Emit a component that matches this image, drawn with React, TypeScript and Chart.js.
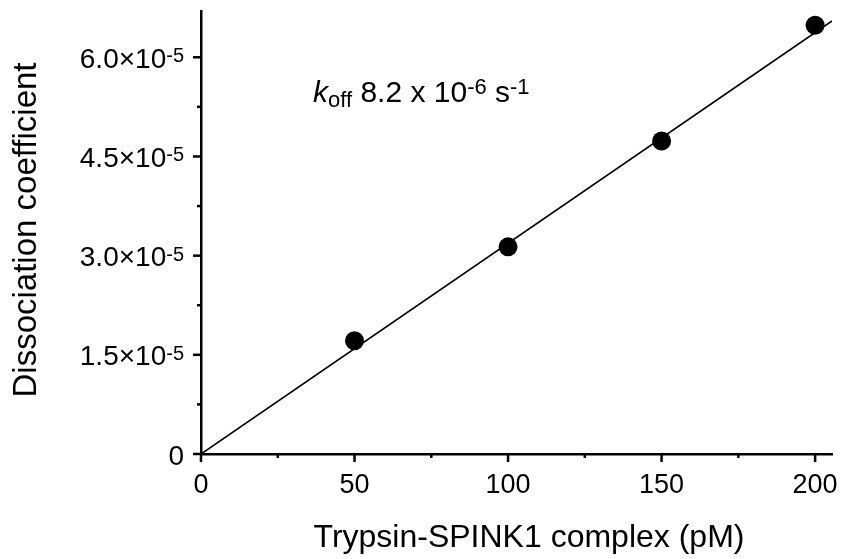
import React, { useEffect, useRef } from "react";
import { Chart, registerables } from "chart.js";

Chart.register(...registerables);

const concentrations = [50, 100, 150, 200];
const dissociation = [1.712e-5, 3.133e-5, 4.735e-5, 6.484e-5];
const fitX = [0, 205.5];
const fitY = [0, 6.55e-5];
const xMajorTicks = [0, 50, 100, 150, 200];
const xMinorTicks = [25, 75, 125, 175];
const yMajorTicks = [0, 1.5e-5, 3.0e-5, 4.5e-5, 6.0e-5];
const yMinorTicks = [0.75e-5, 2.25e-5, 3.75e-5, 5.25e-5];
const yTickMantissa = ["0", "1.5×10", "3.0×10", "4.5×10", "6.0×10"];
const yTickExponent = ["", "-5", "-5", "-5", "-5"];
const xTitle = "Trypsin-SPINK1 complex (pM)";
const yTitle = "Dissociation coefficient";

const FONT = "'Liberation Sans', Arial, sans-serif";

const overlay = {
  id: "overlay",
  afterDraw(chart: any) {
    const ctx = chart.ctx as CanvasRenderingContext2D;
    const xs = chart.scales.x;
    const ys = chart.scales.y;
    const area = chart.chartArea;
    ctx.save();
    ctx.strokeStyle = "#000";
    ctx.fillStyle = "#000";
    ctx.lineWidth = 2.5;
    // x ticks
    xMajorTicks.forEach((v) => {
      const px = xs.getPixelForValue(v);
      ctx.beginPath();
      ctx.moveTo(px, area.bottom);
      ctx.lineTo(px, area.bottom + 8);
      ctx.stroke();
    });
    xMinorTicks.forEach((v) => {
      const px = xs.getPixelForValue(v);
      ctx.beginPath();
      ctx.moveTo(px, area.bottom);
      ctx.lineTo(px, area.bottom + 4);
      ctx.stroke();
    });
    yMajorTicks.forEach((v) => {
      const py = ys.getPixelForValue(v);
      ctx.beginPath();
      ctx.moveTo(area.left, py);
      ctx.lineTo(area.left - 8, py);
      ctx.stroke();
    });
    yMinorTicks.forEach((v) => {
      const py = ys.getPixelForValue(v);
      ctx.beginPath();
      ctx.moveTo(area.left, py);
      ctx.lineTo(area.left - 4, py);
      ctx.stroke();
    });
    // x tick labels
    ctx.font = `27px ${FONT}`;
    ctx.textAlign = "center";
    ctx.textBaseline = "alphabetic";
    xMajorTicks.forEach((v) => {
      const px = xs.getPixelForValue(v);
      ctx.fillText(String(v), px, area.bottom + 39);
    });
    // y tick labels
    ctx.textAlign = "left";
    yMajorTicks.forEach((v, i) => {
      const py = ys.getPixelForValue(v);
      const right = area.left - 17;
      ctx.font = `20px ${FONT}`;
      const supW = yTickExponent[i] ? ctx.measureText(yTickExponent[i]).width : 0;
      ctx.font = `28px ${FONT}`;
      const mainW = ctx.measureText(yTickMantissa[i]).width;
      const x0 = right - supW - mainW;
      ctx.fillText(yTickMantissa[i], x0, py + 10.5);
      if (yTickExponent[i]) {
        ctx.font = `20px ${FONT}`;
        ctx.fillText(yTickExponent[i], x0 + mainW, py + 5);
      }
    });
    // titles
    ctx.font = `32px ${FONT}`;
    ctx.textAlign = "center";
    ctx.fillText(xTitle, 529, 547);
    ctx.save();
    ctx.font = `33px ${FONT}`;
    ctx.translate(36, 230);
    ctx.rotate(-Math.PI / 2);
    ctx.fillText(yTitle, 0, 0);
    ctx.restore();
    // annotation
    ctx.textAlign = "left";
    let x = 313;
    const base = 102;
    const parts: [string, string, number][] = [
      ["k", `italic 30px ${FONT}`, 0],
      ["off", `22px ${FONT}`, 4.5],
      [" 8.2 x 10", `30px ${FONT}`, 0],
      ["-6", `22px ${FONT}`, -8],
      [" s", `30px ${FONT}`, 0],
      ["-1", `22px ${FONT}`, -8],
    ];
    parts.forEach(([t, f, dy]) => {
      ctx.font = f;
      ctx.fillText(t, x, base + dy);
      x += ctx.measureText(t).width;
    });
    ctx.restore();
  },
};

export default function App() {
  const ref = useRef<HTMLCanvasElement | null>(null);
  useEffect(() => {
    if (!ref.current) return;
    const chart = new Chart(ref.current, {
      type: "scatter",
      data: {
        datasets: [
          {
            label: "fit",
            data: fitX.map((x, i) => ({ x, y: fitY[i] })),
            showLine: true,
            borderColor: "#000",
            borderWidth: 1.6,
            pointRadius: 0,
            fill: false,
          },
          {
            label: "data",
            data: concentrations.map((x, i) => ({ x, y: dissociation[i] })),
            showLine: false,
            pointRadius: 9.5,
            pointBackgroundColor: "#000",
            pointBorderColor: "#000",
            pointBorderWidth: 0,
          },
        ],
      },
      options: {
        animation: false,
        responsive: false,
        maintainAspectRatio: false,
        layout: { padding: { left: 201, right: 11, top: 11, bottom: 105 } },
        plugins: {
          legend: { display: false },
          tooltip: { enabled: false },
        },
        scales: {
          x: {
            type: "linear",
            min: 0,
            max: 205.5,
            ticks: { display: false },
            grid: { display: false, drawTicks: false },
            border: { display: true, color: "#000", width: 2.5 },
          },
          y: {
            type: "linear",
            min: 0,
            max: 6.7e-5,
            ticks: { display: false },
            grid: { display: false, drawTicks: false },
            border: { display: true, color: "#000", width: 2.5 },
          },
        },
      },
      plugins: [overlay],
    });
    return () => chart.destroy();
  }, []);
  return (
    <div style={{ position: "fixed", left: 0, top: 0, width: 843, height: 559, background: "#fff" }}>
      <canvas ref={ref} width={843} height={559} style={{ width: 843, height: 559, display: "block" }} />
    </div>
  );
}
